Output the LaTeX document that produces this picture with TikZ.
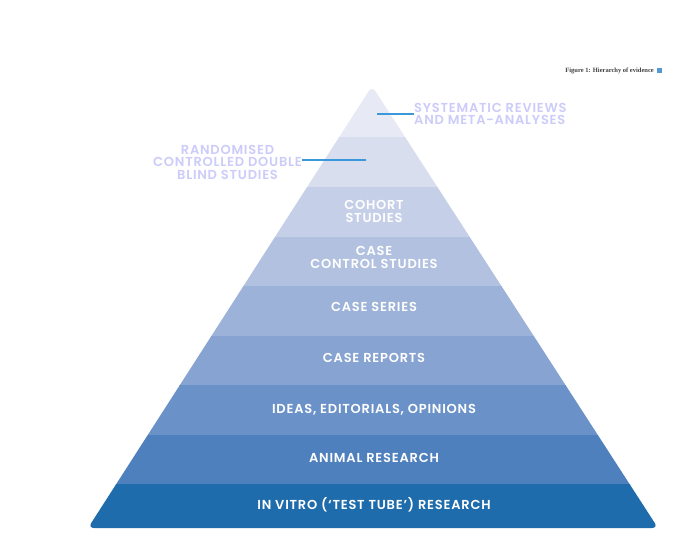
\documentclass[tikz,border=0pt]{standalone}
\usepackage{fontspec}
\setmainfont{Poppins}[BoldFont={* SemiBold},LetterSpace=6]
\newfontfamily\capfont{Liberation Serif}
\begin{document}
\begin{tikzpicture}[x=1pt,y=-1pt,
  lbl/.style={text=white,font=\fontsize{13}{14}\selectfont\bfseries,align=center,inner sep=0},
  side/.style={text=black!10!blue!20!white,font=\fontsize{13}{12.5}\selectfont\bfseries,inner sep=0},
  tick/.style={draw=cyan!70!blue!80!white,line width=1.6pt}]
\useasboundingbox (0,0) rectangle (700,553);
\fill[white] (0,0) rectangle (700,553);
\definecolor{c0}{HTML}{E7EAF4}
\definecolor{c1}{HTML}{D8DEEE}
\definecolor{c2}{HTML}{C5CFE7}
\definecolor{c3}{HTML}{B2C1E0}
\definecolor{c4}{HTML}{9CB2D8}
\definecolor{c5}{HTML}{86A3D1}
\definecolor{c6}{HTML}{6B92C8}
\definecolor{c7}{HTML}{4E80BE}
\definecolor{c8}{HTML}{1F6CAC}
\begin{scope}
\clip[rounded corners=6pt] (372,86) -- (658,528) -- (88,528) -- cycle;
\foreach \i/\c in {0/c0,1/c1,2/c2,3/c3,4/c4,5/c5,6/c6,7/c7,8/c8}{
  \fill[\c] (0,{88+49.5*\i}) rectangle (700,{88+49.5*(\i+1)+0.5});
}
\end{scope}
\node[lbl] (l2) at (374,211) {COHORT\\[-1pt]STUDIES};
\node[lbl] (l3) at (374,257) {CASE\\[-1pt]CONTROL STUDIES};
\node[lbl] (l4) at (374,307) {CASE SERIES};
\node[lbl] (l5) at (374,358) {CASE REPORTS};
\node[lbl] (l6) at (374,410) {IDEAS, EDITORIALS, OPINIONS};
\node[lbl] (l7) at (374,458) {ANIMAL RESEARCH};
\node[lbl] (l8) at (374,505) {IN VITRO (‘TEST TUBE’) RESEARCH};
\coordinate (a0) at (377,114);
\coordinate (a1) at (366,160);
\node[side,anchor=west,align=left] (s0) at (414,114) {SYSTEMATIC REVIEWS\\AND META-ANALYSES};
\node[side,anchor=east,align=center] (s1) at (302,162) {RANDOMISED\\CONTROLLED DOUBLE\\BLIND STUDIES};
\draw[tick] (a0) -- (s0.west);
\draw[tick] (a1) -- (a1 -| s1.east);
\node[anchor=east,inner sep=0,font=\capfont\fontsize{6.5}{7}\selectfont\bfseries,text=black!75] (cap) at (654,71) {Figure 1: Hierarchy of evidence};
\node[fill=cyan!60!blue!70!white,minimum size=5pt,inner sep=0,anchor=west] (ic) at (657,71) {};
\end{tikzpicture}
\end{document}
